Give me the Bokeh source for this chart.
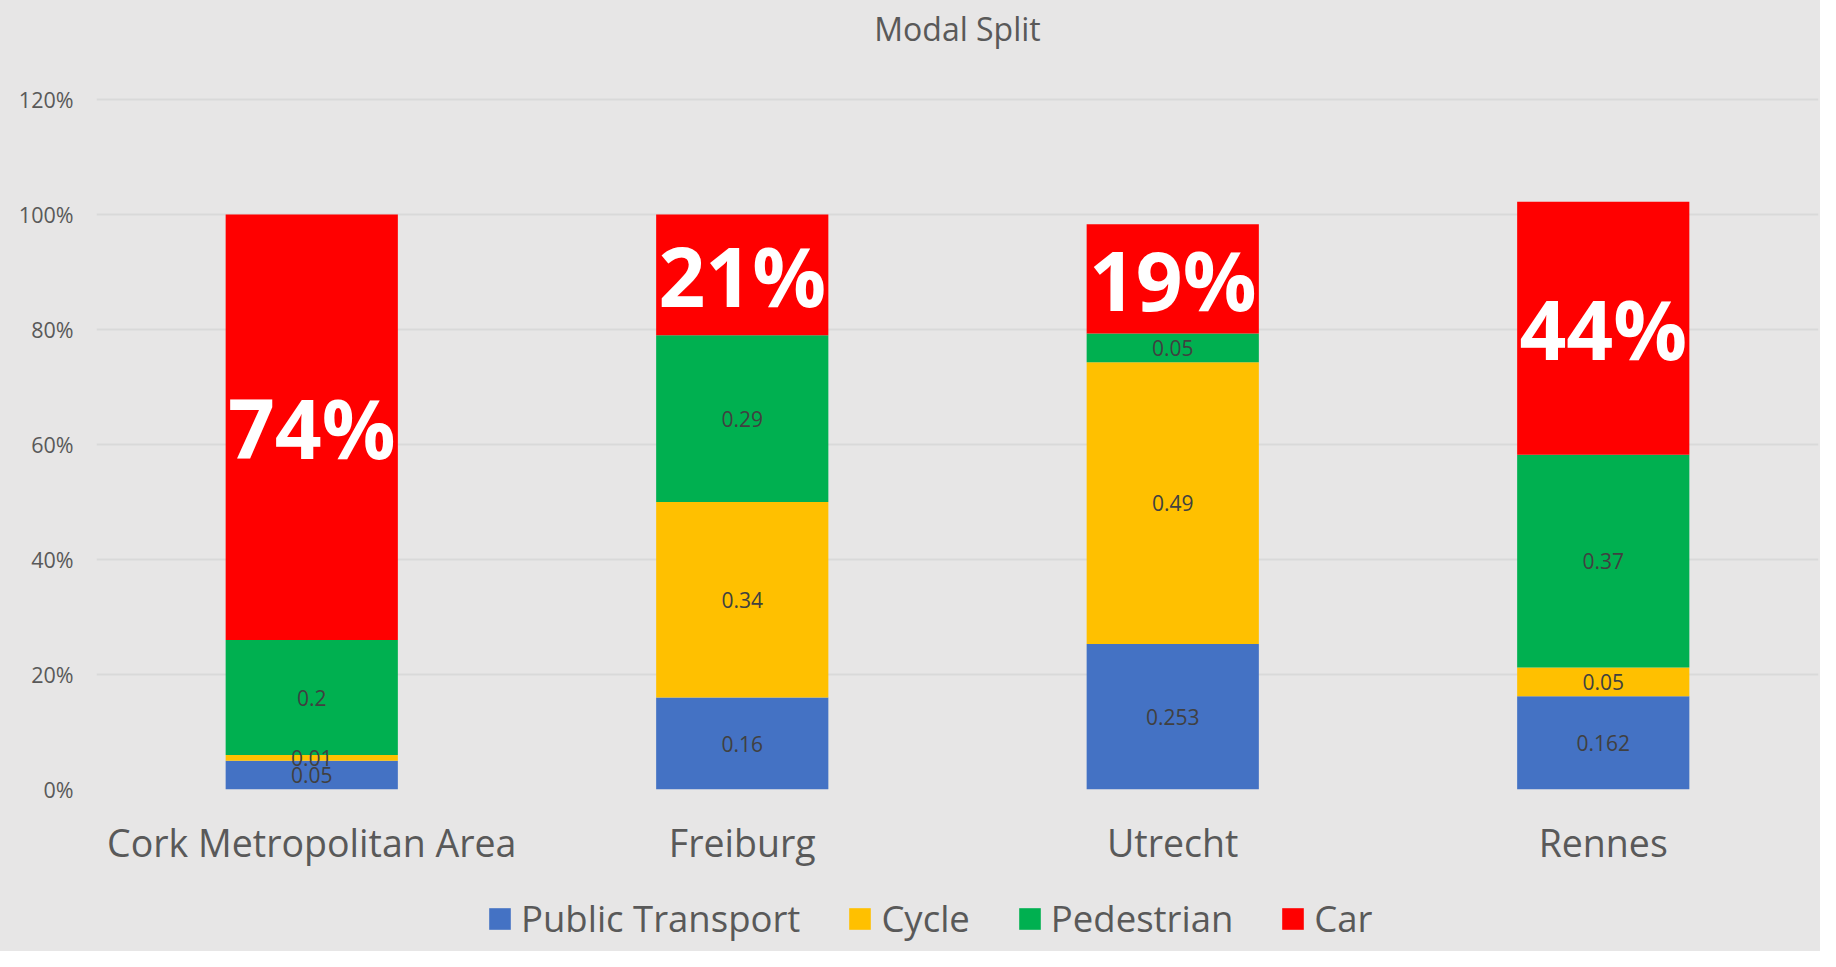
from bokeh.plotting import figure
from bokeh.layouts import column
from bokeh.models import (ColumnDataSource, FactorRange, NumeralTickFormatter, Legend,
                          LegendItem, FixedTicker, Range1d)
from bokeh.core.properties import value
from bokeh.embed import file_html
from bokeh.resources import INLINE

# ---- data ----
title_text = "Modal Split"
cities = ["Cork Metropolitan Area", "Freiburg", "Utrecht", "Rennes"]
modes = ["Public Transport", "Cycle", "Pedestrian", "Car"]
public_transport = [0.05, 0.16, 0.253, 0.162]
cycle = [0.01, 0.34, 0.49, 0.05]
pedestrian = [0.2, 0.29, 0.05, 0.37]
car = [0.74, 0.21, 0.19, 0.44]
car_labels = ["74%", "21%", "19%", "44%"]
y_ticks = [0, 0.2, 0.4, 0.6, 0.8, 1.0, 1.2]
colors = ["#4472C4", "#FFC000", "#00B050", "#FF0000"]

FONT = "Open Sans"
BG = "#E7E6E6"
GREY = "#595959"
W = 1820


def strip(height):
    f = figure(width=W, height=height, x_range=Range1d(0, 1), y_range=Range1d(0, 1),
               output_backend="svg", toolbar_location=None,
               min_border_left=0, min_border_right=0, min_border_top=0, min_border_bottom=0)
    f.axis.visible = False
    f.grid.visible = False
    f.background_fill_alpha = 0
    f.border_fill_color = BG
    f.outline_line_color = None
    return f


# ---- title strip ----
pt = strip(56)
pt.text(x=[0.5], y=[0.5], text=[title_text], text_align="center", text_baseline="middle",
        text_font=value(FONT), text_font_size="32px", text_color=GREY)

# ---- main chart ----
series = [public_transport, cycle, pedestrian, car]
keys = ["pt", "cy", "pe", "car"]
src = ColumnDataSource(dict(city=cities, pt=public_transport, cy=cycle, pe=pedestrian, car=car))

# small headroom above 120% so that its gridline is not clipped at the frame edge
p = figure(width=W, height=824, x_range=FactorRange(*cities), y_range=Range1d(0, 1.2035),
           output_backend="svg", toolbar_location=None,
           min_border_left=96, min_border_right=2, min_border_top=41, min_border_bottom=91)
p.background_fill_alpha = 0
p.border_fill_color = BG
p.outline_line_color = None

renderers = p.vbar_stack(keys, x="city", width=0.4, source=src, color=colors, line_color=None)

# segment labels (not car)
lx, ly, lt = [], [], []
for i, c in enumerate(cities):
    base = 0.0
    for s in series[:3]:
        v = s[i]
        lx.append(c)
        ly.append(base + v / 2)
        lt.append(str(v))
        base += v
p.text(x=lx, y=ly, text=lt, text_align="center", text_baseline="middle",
       text_font=value(FONT), text_font_size="21px", text_color="#404040")

# big car labels
cx, cy_ = [], []
for i, c in enumerate(cities):
    base = public_transport[i] + cycle[i] + pedestrian[i]
    cx.append(c)
    cy_.append(base + car[i] / 2)
p.text(x=cx, y=cy_, text=car_labels, text_align="center", text_baseline="middle",
       text_font=value(FONT), text_font_size="82px", text_font_style="bold",
       text_color="white")

# axes
p.yaxis.ticker = FixedTicker(ticks=y_ticks)
p.yaxis.formatter = NumeralTickFormatter(format="0%")
for ax in (p.xaxis[0], p.yaxis[0]):
    ax.axis_line_color = None
    ax.major_tick_line_color = None
    ax.minor_tick_line_color = None
    ax.major_label_text_font = FONT
    ax.major_label_text_color = GREY
p.yaxis.major_label_text_font_size = "21.5px"
p.yaxis.major_label_standoff = 17
p.xaxis.major_label_text_font_size = "37.5px"
p.xaxis.major_label_standoff = 21

p.xgrid.grid_line_color = None
p.ygrid.grid_line_color = "#D9D9D9"
p.ygrid.grid_line_width = 2

# ---- legend strip ----
pl = strip(71)
leg_r = [pl.vbar(x=[0.5], top=[0], bottom=[0], width=0, color=c, line_color=None)
         for c in colors]
items = [LegendItem(label=m, renderers=[r]) for m, r in zip(modes, leg_r)]
legend = Legend(items=items, orientation="horizontal", location=(390, 8),
                glyph_width=27, glyph_height=27, label_standoff=8, spacing=46,
                padding=0, margin=0, border_line_color=None, background_fill_alpha=0,
                label_text_font=FONT, label_text_font_size="36.5px", label_text_color=GREY)
pl.add_layout(legend, "center")

layout = column(pt, p, pl, spacing=0, styles={"background-color": BG})
open("out.html", "w").write(file_html(layout, INLINE))
